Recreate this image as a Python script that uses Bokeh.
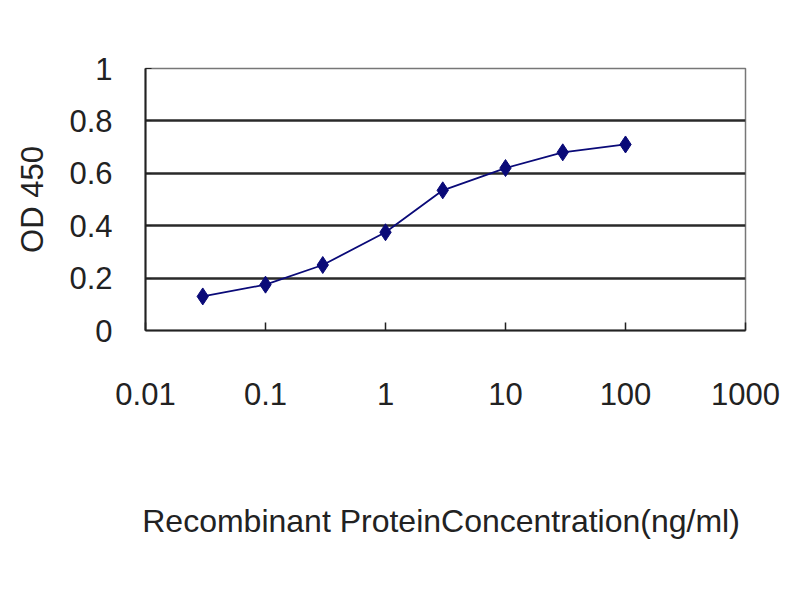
from bokeh.plotting import figure
from bokeh.models import FixedTicker, Range1d
from bokeh.embed import file_html
from bokeh.resources import INLINE

# Data
concentration = [0.03, 0.1, 0.3, 1, 3, 10, 30, 100]
od450 = [0.13, 0.175, 0.25, 0.375, 0.535, 0.62, 0.68, 0.71]

x_ticks = [0.01, 0.1, 1, 10, 100, 1000]
x_tick_labels = ["0.01", "0.1", "1", "10", "100", "1000"]
y_ticks = [0, 0.2, 0.4, 0.6, 0.8, 1]
y_tick_labels = ["0", "0.2", "0.4", "0.6", "0.8", "1"]

FONT = "Liberation Sans"
NAVY = "#0a0a78"

p = figure(width=784, height=584, x_axis_type="log",
           x_range=Range1d(0.01, 1000), y_range=Range1d(0, 1),
           output_backend="svg", toolbar_location=None,
           min_border_left=145, min_border_right=39,
           min_border_top=68, min_border_bottom=254)

p.background_fill_color = "white"
p.border_fill_color = "white"
p.outline_line_color = "#777777"
p.outline_line_width = 1.5

# grid
p.xgrid.grid_line_color = None
p.ygrid.ticker = FixedTicker(ticks=y_ticks[1:-1])
p.ygrid.grid_line_color = "#2a2a2a"
p.ygrid.grid_line_width = 2.5

# x axis
xa = p.xaxis[0]
xa.ticker = FixedTicker(ticks=x_ticks)
xa.major_label_overrides = {t: l for t, l in zip(x_ticks, x_tick_labels)}
xa.major_tick_in = 8
xa.major_tick_out = 0
xa.minor_tick_line_color = None
xa.axis_line_color = "#222222"
xa.axis_line_width = 2
xa.major_tick_line_color = "#222222"
xa.major_tick_line_width = 1.5
xa.major_label_text_font = FONT
xa.major_label_text_font_size = "31px"
xa.major_label_text_color = "#222222"
xa.major_label_standoff = 52
xa.axis_label = "Recombinant  ProteinConcentration(ng/ml)"
xa.axis_label_text_font = FONT
xa.axis_label_text_font_size = "32px"
xa.axis_label_text_font_style = "normal"
xa.axis_label_text_color = "#222222"
xa.axis_label_standoff = 95

# y axis
ya = p.yaxis[0]
ya.ticker = FixedTicker(ticks=y_ticks)
ya.major_label_overrides = {t: l for t, l in zip(y_ticks, y_tick_labels)}
ya.major_tick_in = 6
ya.major_tick_out = 0
ya.minor_tick_line_color = None
ya.axis_line_color = "#222222"
ya.axis_line_width = 2
ya.major_tick_line_color = "#222222"
ya.major_label_text_font = FONT
ya.major_label_text_font_size = "31px"
ya.major_label_text_color = "#222222"
ya.major_label_standoff = 33
ya.axis_label = "OD 450"
ya.axis_label_text_font = FONT
ya.axis_label_text_font_size = "31px"
ya.axis_label_text_font_style = "normal"
ya.axis_label_text_color = "#222222"
ya.axis_label_standoff = 16

p.line(concentration, od450, line_color=NAVY, line_width=1.8)
p.scatter(concentration, od450, marker="diamond", size=17,
          fill_color=NAVY, line_color=NAVY)

open("out.html", "w").write(file_html(p, INLINE))
